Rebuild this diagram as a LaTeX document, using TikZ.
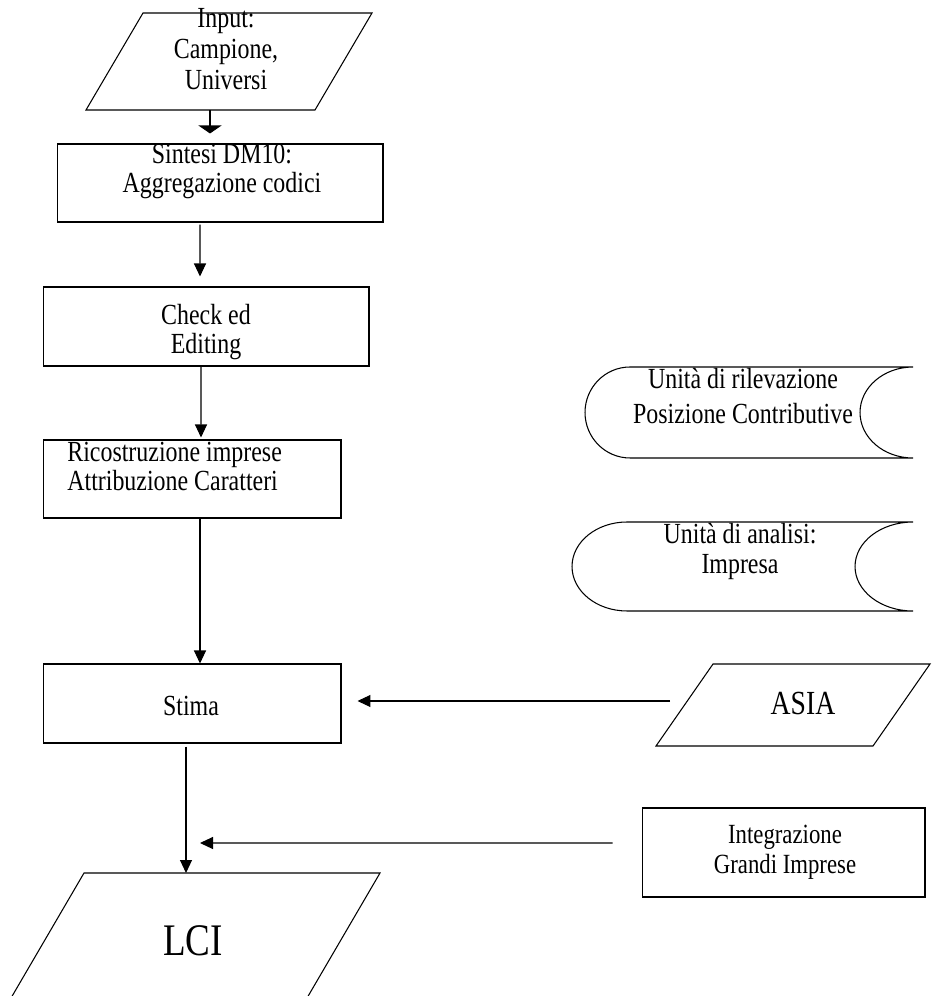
\documentclass[tikz,border=0pt]{standalone}
\usepackage{fontspec}
\setmainfont{Liberation Serif}[FakeStretch=0.82]
\usetikzlibrary{arrows.meta, positioning}

\begin{document}
\begin{tikzpicture}[x=0.02cm, y=-0.02cm]
\tikzset{
    box/.style={rectangle, draw=black, line width=0.6pt, inner sep=0pt},
    outline/.style={draw=black, line width=0.6pt},
    txt/.style={align=center, inner sep=0pt, anchor=base, font=\fontsize{16.6}{17}\selectfont},
    flow/.style={-{Triangle[length=0.26cm, width=0.24cm]}, line width=0.6pt}
}
\useasboundingbox (0,0) rectangle (931,996);
% main chain
\draw[outline] (86,110) -- (143,13) -- (372,13) -- (315,110) -- cycle;
\coordinate (input-out) at (210,110);
\node[txt, font=\fontsize{16.6}{17.9}\selectfont] (input-t) at (226,90) {Input:\\Campione,\\Universi};
\node[box, minimum width=6.52cm, minimum height=1.56cm] (sintesi) at (220,183) {};
\node[txt] (sintesi-t) at (222,193) {Sintesi DM10:\\Aggregazione codici};
\node[box, minimum width=6.52cm, minimum height=1.58cm] (check) at (206,326.5) {};
\node[txt] (check-t) at (206,354) {Check ed\\Editing};
\node[box, minimum width=5.96cm, minimum height=1.56cm] (ricostr) at (192,479) {};
\node[txt, align=left, anchor=base west, font=\fontsize{16.6}{12.5}\selectfont] (ricostr-t) at (67,490) {Ricostruzione imprese\\Attribuzione Caratteri};
\node[box, minimum width=5.96cm, minimum height=1.58cm] (stima) at (192,703.5) {};
\node[txt] (stima-t) at (191,715) {Stima};
\draw[outline] (4,1010) -- (84,873) -- (380,873) -- (300,1010);
\coordinate (lci-in) at (186,873);
\node[txt, font=\fontsize{25.7}{30}\selectfont] (lci-t) at (193,955) {LCI};
% side inputs
\draw[outline] (656,746) -- (713,664) -- (930,664) -- (873,746) -- cycle;
\coordinate (asia-in) at (670,701);
\node[txt, font=\fontsize{19.2}{20}\selectfont] (asia-t) at (803,714) {ASIA};
\node[box, minimum width=5.66cm, minimum height=1.78cm] (integr) at (783.5,852.5) {};
\node[txt, font=\fontsize{15.8}{17}\selectfont] (integr-t) at (785,873) {Integrazione\\Grandi Imprese};
% stored data
\draw[outline] (913,367) -- (630,367) arc[start angle=90, end angle=270, x radius=0.9cm, y radius=0.91cm] -- (913,458) arc[start angle=270, end angle=90, x radius=1.06cm, y radius=0.91cm];
\node[txt] (rilev-t) at (743,423) {Unità di rilevazione\\[0.1cm]Posizione Contributive};
\draw[outline] (913,522) -- (627,522) arc[start angle=90, end angle=270, x radius=1.1cm, y radius=0.89cm] -- (913,611) arc[start angle=270, end angle=90, x radius=1.16cm, y radius=0.89cm];
\node[txt] (analisi-t) at (740,573) {Unità di analisi:\\Impresa};
% arrows
\draw[flow, -{Triangle[length=0.16cm, width=0.46cm]}, shorten >=0.2cm] (input-out) -- (input-out |- sintesi.north);
\draw[flow, shorten <=0.04cm, shorten >=0.2cm] ([xshift=-0.4cm]sintesi.south) -- ([xshift=-0.12cm]check.north);
\draw[flow, shorten >=0.04cm] ([xshift=-0.1cm]check.south) -- ([xshift=0.18cm]ricostr.north);
\draw[flow] ([xshift=0.16cm]ricostr.south) -- ([xshift=0.16cm]stima.north);
\draw[flow, shorten <=0.06cm] (stima.south -| lci-in) -- (lci-in);
\draw[flow, shorten >=0.32cm] (asia-in) -- (asia-in -| stima.east);
\coordinate (merge) at (200,843);
\draw[flow, shorten <=0.58cm] ([yshift=0.19cm]integr.west) -- (merge);
\end{tikzpicture}
\end{document}
